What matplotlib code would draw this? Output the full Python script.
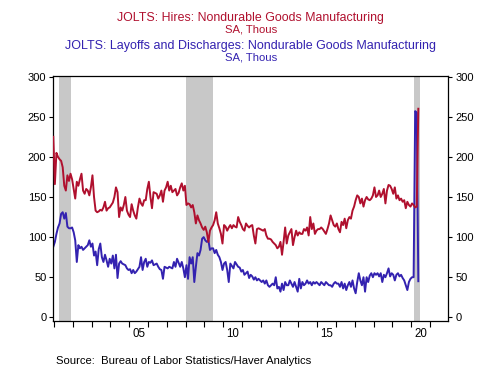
import numpy as np
import matplotlib
matplotlib.use("Agg")
import matplotlib.pyplot as plt

plt.rcParams['font.family'] = ['Liberation Sans', 'DejaVu Sans']

start_year = 2000
start_month = 12  # Dec 2000

hires = [225,166,205,200,197,195,187,164,158,177,170,179,172,160,148,169,164,172,179,158,
         154,160,158,152,162,177,150,133,131,132,134,133,137,144,133,136,137,140,143,150,
         162,156,125,137,133,140,150,133,128,125,141,133,127,123,137,148,142,139,146,146,
         160,169,150,136,156,155,154,148,152,158,144,158,162,169,158,164,156,158,160,152,
         155,162,167,158,164,140,142,141,137,140,131,117,127,121,117,112,109,113,106,94,
         108,112,115,121,131,117,111,104,92,115,113,108,112,115,111,115,113,112,125,119,
         115,110,108,117,114,112,114,115,102,92,110,111,110,109,108,110,102,98,98,97,
         94,92,90,86,88,94,78,94,112,92,102,106,110,90,100,108,102,106,104,104,
         110,108,112,102,125,110,117,104,108,110,110,112,110,107,104,110,117,127,121,115,
         113,117,110,106,119,115,123,111,121,125,123,133,138,146,152,150,142,148,138,146,
         150,147,146,148,152,162,150,152,158,150,154,160,142,158,165,164,160,154,162,148,
         152,146,148,144,146,136,144,140,138,142,140,137,138,260]

layoffs = [88,94,104,112,117,129,131,123,130,113,111,111,112,106,96,69,90,86,88,84,
           86,88,90,96,88,92,77,82,65,85,92,75,69,78,71,63,73,67,77,61,
           78,49,67,70,67,66,65,61,59,60,55,59,55,57,60,63,75,59,69,73,
           63,69,68,71,65,66,67,63,60,59,48,63,62,61,63,62,61,69,63,73,
           68,63,69,61,50,65,48,75,67,75,44,63,80,77,84,98,100,96,94,96,
           84,86,86,80,84,78,75,69,59,67,69,59,44,67,64,61,69,66,63,62,
           57,59,53,55,57,49,53,51,47,50,46,48,46,44,46,42,46,40,38,40,
           42,40,50,36,38,32,42,34,44,40,40,46,42,38,44,38,32,48,36,44,
           40,42,46,42,44,40,44,42,44,42,40,44,42,40,44,42,40,40,38,42,
           44,42,42,38,44,36,42,34,40,44,38,46,36,30,44,55,46,40,50,32,
           50,44,52,55,50,55,53,55,51,55,44,53,50,55,61,51,55,53,46,53,
           55,51,53,49,46,40,34,44,48,50,50,257,255,45]

recessions = [(2001.25, 2001.90), (2008.0, 2009.45), (2020.12, 2020.44)]

yticks = [0, 50, 100, 150, 200, 250, 300]
xlabel_years = [2005, 2010, 2015, 2020]
xlabels = ['05', '10', '15', '20']

red = '#B0102E'
blue = '#3322B0'

n = len(hires)
t = start_year + (start_month - 1) / 12 + 0.5 / 12 + np.arange(n) / 12.0

fig = plt.figure(figsize=(5.02, 3.68), dpi=100)
ax = fig.add_axes([53.3/502, 1 - 320.7/368, (448.3-53.3)/502, (320.7-76)/368])

for a, b in recessions:
    ax.axvspan(a, b, color='#C8C8C8', lw=0, zorder=0)

ax.plot(t, layoffs, color=blue, lw=1.4, zorder=2)
ax.plot(t, hires, color=red, lw=1.4, zorder=3)

ax.set_xlim(t[0], 2021.97)
ax.set_ylim(-4.2, 300.8)

ax.set_yticks(yticks)
ax.set_yticklabels([str(v) for v in yticks])
ax.tick_params(axis='y', direction='out', length=3, width=0.8, labelsize=8, pad=2,
               right=True, labelright=True)

ax.set_xticks(np.arange(2001, 2022))
ax.set_xticklabels([])
ax.set_xticks([y + 0.5 for y in xlabel_years], minor=True)
ax.set_xticklabels(xlabels, minor=True)
ax.tick_params(axis='x', which='major', direction='out', length=4, width=0.8)
ax.tick_params(axis='x', which='minor', length=0, labelsize=8.3, pad=5)

for s in ax.spines.values():
    s.set_linewidth(0.9)
    s.set_color('black')

cx = (53.3 + 448.3) / 2 / 502
fig.text(cx, 1 - 18.5/368, 'JOLTS: Hires: Nondurable Goods Manufacturing', color=red,
         ha='center', va='center', fontsize=8.9)
fig.text(cx, 1 - 30/368, 'SA, Thous', color=red, ha='center', va='center', fontsize=8.1)
fig.text(cx, 1 - 46/368, 'JOLTS: Layoffs and Discharges: Nondurable Goods Manufacturing',
         color=blue, ha='center', va='center', fontsize=9.0)
fig.text(cx, 1 - 57.5/368, 'SA, Thous', color=blue, ha='center', va='center', fontsize=8.1)

fig.text(56/502, 1 - 361/368, 'Source:  Bureau of Labor Statistics/Haver Analytics',
         ha='left', va='center', fontsize=8.1, color='black')

fig.savefig('out.png', dpi=100)
